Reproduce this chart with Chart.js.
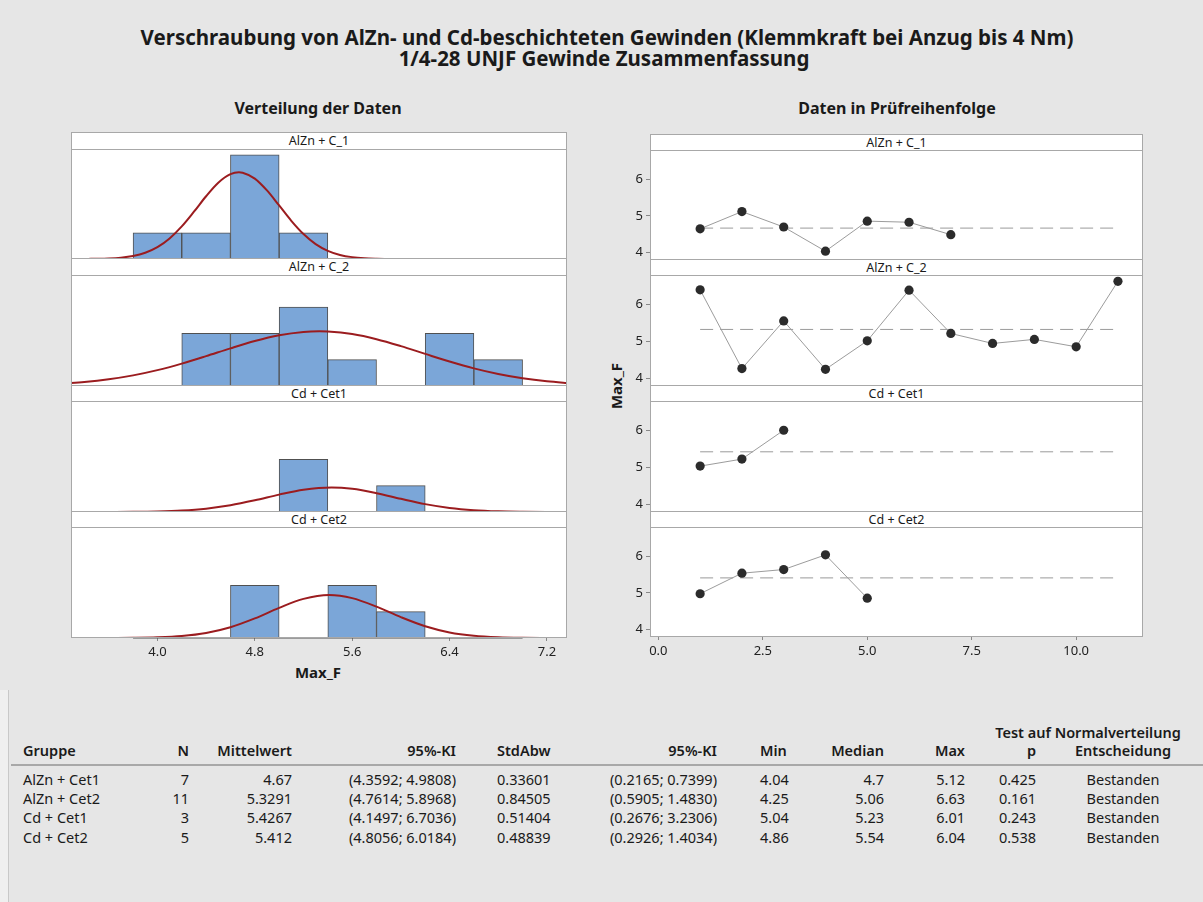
<!DOCTYPE html>
<html><head><meta charset="utf-8">
<script src="https://cdn.jsdelivr.net/npm/chart.js@4.4.0/dist/chart.umd.min.js"></script>
<style>
html,body{margin:0;padding:0;background:#e6e6e6;}
body{width:1203px;height:902px;position:relative;overflow:hidden;font-family:"Noto Sans","Open Sans",sans-serif;color:#1a1a1a;}
.t{position:absolute;white-space:nowrap;line-height:1;}
.strip{position:absolute;box-sizing:border-box;background:#fff;border:1px solid #a8a8a8;text-align:center;font-size:12.5px;color:#1a1a1a;}
.cv{position:absolute;}
</style>
</head><body>
<script>
// ---------- DATA ----------
const groupNames = ["AlZn + C_1", "AlZn + C_2", "Cd + Cet1", "Cd + Cet2"];
const binCenters = [4.0, 4.4, 4.8, 5.2, 5.6, 6.0, 6.4, 6.8];
const binRange = [3.8, 7.0];
const countsC1 = [1, 1, 4, 1, 0, 0, 0, 0];
const countsC2 = [0, 2, 2, 3, 1, 0, 2, 1];
const countsCet1 = [0, 0, 0, 2, 0, 1, 0, 0];
const countsCet2 = [0, 0, 2, 0, 2, 1, 0, 0];

const fitX1 = [3.43,3.5,3.6,3.7,3.8,3.9,4.0,4.1,4.2,4.3,4.4,4.5,4.6,4.67,4.7,4.8,4.9,5.0,5.1,5.2,5.3,5.4,5.5,5.6,5.7,5.8,5.9,5.93];
const fitY1 = [0.004,0.008,0.021,0.052,0.116,0.241,0.455,0.789,1.250,1.813,2.407,2.925,3.253,3.324,3.311,3.085,2.630,2.053,1.466,0.958,0.573,0.314,0.157,0.072,0.030,0.012,0.004,0.003];
const fitX2 = [3.2,3.4,3.6,3.8,4.0,4.2,4.4,4.6,4.8,5.0,5.2,5.33,5.4,5.6,5.8,6.0,6.2,6.4,6.6,6.8,7.0,7.2,7.4];
const fitY2 = [0.087,0.153,0.256,0.404,0.603,0.851,1.135,1.432,1.708,1.926,2.053,2.077,2.070,1.973,1.779,1.516,1.221,0.931,0.670,0.457,0.294,0.179,0.103];
const fitX3 = [3.53,3.6,3.8,4.0,4.2,4.4,4.6,4.8,5.0,5.2,5.43,5.6,5.8,6.0,6.2,6.4,6.6,6.8,7.0,7.2,7.33];
const fitY3 = [0.001,0.002,0.006,0.020,0.054,0.127,0.256,0.443,0.660,0.845,0.931,0.880,0.715,0.500,0.300,0.155,0.069,0.026,0.009,0.002,0.001];
const fitX4 = [3.61,3.8,4.0,4.2,4.4,4.6,4.8,5.0,5.2,5.41,5.6,5.8,6.0,6.2,6.4,6.6,6.8,7.0,7.22];
const fitY4 = [0.002,0.007,0.025,0.075,0.191,0.410,0.745,1.145,1.487,1.634,1.517,1.192,0.792,0.445,0.211,0.085,0.029,0.008,0.002];

const seqC1 = [4.65, 5.12, 4.70, 4.04, 4.86, 4.83, 4.49];
const seqC2 = [6.40, 4.27, 5.56, 4.25, 5.02, 6.39, 5.22, 4.95, 5.06, 4.86, 6.63];
const seqCet1 = [5.04, 5.23, 6.01];
const seqCet2 = [4.98, 5.54, 5.64, 6.04, 4.86];
const groupMeans = [4.67, 5.3291, 5.4267, 5.412];
const meanLineX = [1, 11];

const histTicks = [4.0, 4.8, 5.6, 6.4, 7.2];
const orderTicks = [0.0, 2.5, 5.0, 7.5, 10.0];
const valueTicks = [4, 5, 6];

const tableGroups = ["AlZn + Cet1", "AlZn + Cet2", "Cd + Cet1", "Cd + Cet2"];
const tableN = ["7", "11", "3", "5"];
const tableMean = ["4.67", "5.3291", "5.4267", "5.412"];
const tableMeanCI = ["(4.3592; 4.9808)", "(4.7614; 5.8968)", "(4.1497; 6.7036)", "(4.8056; 6.0184)"];
const tableStd = ["0.33601", "0.84505", "0.51404", "0.48839"];
const tableStdCI = ["(0.2165; 0.7399)", "(0.5905; 1.4830)", "(0.2676; 3.2306)", "(0.2926; 1.4034)"];
const tableMin = ["4.04", "4.25", "5.04", "4.86"];
const tableMedian = ["4.7", "5.06", "5.23", "5.54"];
const tableMax = ["5.12", "6.63", "6.01", "6.04"];
const tableP = ["0.425", "0.161", "0.243", "0.538"];
const tableDecision = ["Bestanden", "Bestanden", "Bestanden", "Bestanden"];

// ---------- LAYOUT ----------
const counts = [countsC1, countsC2, countsCet1, countsCet2];
const fitsX = [fitX1, fitX2, fitX3, fitX4];
const fitsY = [fitY1, fitY2, fitY3, fitY4];
const seqs = [seqC1, seqC2, seqCet1, seqCet2];

const LEFT = {x: 71, w: 496, strips: [[132, 18], [258, 18], [385, 17], [511, 17]], plots: [[149, 110], [275, 111], [401, 111], [527, 111]]};
const RIGHT = {x: 650, w: 493, strips: [[134, 17], [259, 17], [385, 17], [511, 17]], plots: [[150, 110], [275, 111], [401, 111], [527, 110]]};

function text(str, x, y, opts) {
  const d = document.createElement('div');
  d.className = 't';
  d.textContent = str;
  const o = opts || {};
  d.style.fontSize = (o.size || 14) + 'px';
  d.style.fontWeight = o.weight || 400;
  d.style.top = y + 'px';
  let tf = 'translateY(-50%)';
  if (o.align === 'right') { d.style.right = (1203 - x) + 'px'; }
  else if (o.align === 'center') { d.style.left = x + 'px'; tf = 'translate(-50%,-50%)'; }
  else { d.style.left = x + 'px'; }
  if (o.rotate) tf += ' rotate(-90deg)';
  d.style.transform = tf;
  document.body.appendChild(d);
  return d;
}

// titles
text("Verschraubung von AlZn- und Cd-beschichteten Gewinden (Klemmkraft bei Anzug bis 4 Nm)", 607, 37, {size: 20.5, weight: 700, align: 'center'});
text("1/4-28 UNJF Gewinde Zusammenfassung", 604, 58, {size: 20.5, weight: 700, align: 'center'});
text("Verteilung der Daten", 318, 108, {size: 16, weight: 700, align: 'center'});
text("Daten in Prüfreihenfolge", 897, 108, {size: 16, weight: 700, align: 'center'});
text("Max_F", 318, 672, {size: 15, weight: 700, align: 'center'});
text("Max_F", 616, 386, {size: 15, weight: 700, align: 'center', rotate: true});

// strips
function strip(col, i) {
  const s = col.strips[i];
  const d = document.createElement('div');
  d.className = 'strip';
  d.style.left = col.x + 'px'; d.style.top = s[0] + 'px';
  d.style.width = col.w + 'px'; d.style.height = s[1] + 'px';
  d.style.lineHeight = (s[1] - 2) + 'px';
  d.textContent = groupNames[i];
  document.body.appendChild(d);
}

Chart.defaults.font.family = '"Noto Sans", "Open Sans", sans-serif';
Chart.defaults.color = '#222';

const framePlugin = {
  id: 'frame',
  beforeDraw(chart) {
    const a = chart.chartArea, c = chart.ctx;
    c.save(); c.fillStyle = '#fff'; c.fillRect(a.left, a.top, a.width, a.height); c.restore();
  },
  afterDraw(chart) {
    const a = chart.chartArea, c = chart.ctx;
    c.save(); c.strokeStyle = '#a8a8a8'; c.lineWidth = 1;
    c.strokeRect(a.left + 0.5, a.top + 0.5, a.width - 1, a.height - 1); c.restore();
  }
};

function makeCanvas(x, y, w, h) {
  const d = document.createElement('div');
  d.className = 'cv';
  d.style.left = x + 'px'; d.style.top = y + 'px';
  d.style.width = w + 'px'; d.style.height = h + 'px';
  const c = document.createElement('canvas');
  d.appendChild(c);
  document.body.appendChild(d);
  return c;
}

const AXH = 30, AXW = 30;
function noPad(s) { s.paddingTop = 0; s.paddingBottom = 0; s.paddingLeft = 0; s.paddingRight = 0; }

// left histograms
for (let i = 0; i < 4; i++) {
  strip(LEFT, i);
  const p = LEFT.plots[i];
  const bottom = i === 3;
  const cv = makeCanvas(LEFT.x, p[0], LEFT.w, p[1] + (bottom ? AXH : 0));
  new Chart(cv, {
    type: 'bar',
    data: {
      datasets: [
        {type: 'line', data: fitsX[i].map((x, k) => ({x, y: fitsY[i][k]})), borderColor: '#9b1c1f', borderWidth: 2,
         pointRadius: 0, cubicInterpolationMode: 'monotone', fill: false},
        {type: 'bar', data: binCenters.map((x, k) => ({x, y: counts[i][k] || null})), backgroundColor: '#7ba6d8',
         borderColor: '#505050', borderWidth: 1, borderSkipped: 'start', barPercentage: 1, categoryPercentage: 1},
        {type: 'line', data: binRange.map(x => ({x, y: 0})), borderColor: '#505050', borderWidth: 1, pointRadius: 0, clip: false}
      ]
    },
    options: {
      animation: false, responsive: true, maintainAspectRatio: false, devicePixelRatio: 1,
      layout: {padding: 0, autoPadding: false},
      plugins: {legend: {display: false}, tooltip: {enabled: false}},
      scales: {
        x: {type: 'linear', min: 3.29, max: 7.365, offset: false, display: bottom,
            afterBuildTicks: s => { s.ticks = histTicks.map(v => ({value: v})); },
            afterFit: s => { noPad(s); if (bottom) s.height = AXH; },
            grid: {offset: false, drawOnChartArea: false, drawTicks: true, tickLength: 3, color: '#888'},
            border: {display: false},
            ticks: {font: {size: 13}, color: '#222', padding: 3, maxRotation: 0, callback: v => Number(v).toFixed(1)}},
        y: {type: 'linear', min: 0, max: 4.22, display: false}
      }
    },
    plugins: [framePlugin]
  });
}

// right time-order plots
for (let i = 0; i < 4; i++) {
  strip(RIGHT, i);
  const p = RIGHT.plots[i];
  const bottom = i === 3;
  const cv = makeCanvas(RIGHT.x - AXW, p[0], RIGHT.w + AXW, p[1] + (bottom ? AXH : 0));
  new Chart(cv, {
    type: 'line',
    data: {
      datasets: [
        {data: seqs[i].map((v, k) => ({x: k + 1, y: v})), borderColor: '#9c9c9c', borderWidth: 1,
         pointRadius: 4.6, pointBackgroundColor: '#2b2b2b', pointBorderColor: '#2b2b2b', pointBorderWidth: 0, tension: 0},
        {data: meanLineX.map(x => ({x, y: groupMeans[i]})), borderColor: '#9a9a9a', borderWidth: 1,
         borderDash: [13, 7], pointRadius: 0}
      ]
    },
    options: {
      animation: false, responsive: true, maintainAspectRatio: false, devicePixelRatio: 1,
      layout: {padding: 0, autoPadding: false},
      plugins: {legend: {display: false}, tooltip: {enabled: false}},
      scales: {
        x: {type: 'linear', min: -0.2, max: 11.6, display: bottom,
            afterBuildTicks: s => { s.ticks = orderTicks.map(v => ({value: v})); },
            afterFit: s => { noPad(s); if (bottom) s.height = AXH; },
            grid: {drawOnChartArea: false, drawTicks: true, tickLength: 3, color: '#888'},
            border: {display: false},
            ticks: {font: {size: 13}, color: '#222', padding: 3, maxRotation: 0, callback: v => Number(v).toFixed(1)}},
        y: {type: 'linear', min: 3.8, max: 6.8,
            afterBuildTicks: s => { s.ticks = valueTicks.map(v => ({value: v})); },
            afterFit: s => { noPad(s); s.width = AXW; },
            grid: {drawOnChartArea: false, drawTicks: true, tickLength: 4, color: '#888'},
            border: {display: false},
            ticks: {font: {size: 13}, color: '#222', padding: 3, callback: v => String(v)}}
      }
    },
    plugins: [framePlugin]
  });
}

// ---------- TABLE ----------
const cols = [
  {head: "Gruppe", vals: tableGroups, x: 23, align: 'left'},
  {head: "N", vals: tableN, x: 189, align: 'right'},
  {head: "Mittelwert", vals: tableMean, x: 292, align: 'right'},
  {head: "95%-KI", vals: tableMeanCI, x: 456, align: 'right'},
  {head: "StdAbw", vals: tableStd, x: 497, align: 'left'},
  {head: "95%-KI", vals: tableStdCI, x: 717, align: 'right'},
  {head: "Min", vals: tableMin, x: 760, align: 'left'},
  {head: "Median", vals: tableMedian, x: 884, align: 'right'},
  {head: "Max", vals: tableMax, x: 965, align: 'right'},
  {head: "p", vals: tableP, x: 1036, align: 'right'},
  {head: "Entscheidung", vals: tableDecision, x: 1123, align: 'center'}
];
const headY = 750, rowY = [779, 798, 817, 836.5];
text("Test auf Normalverteilung", 1088, 731.5, {size: 14.5, weight: 600, align: 'center'});
cols.forEach(c => {
  text(c.head, c.x, headY, {size: 14.5, weight: 600, align: c.align});
  c.vals.forEach((v, r) => text(v, c.x, rowY[r], {size: 14.5, weight: 400, align: c.align}));
});
const sep = document.createElement('div');
sep.style.cssText = 'position:absolute;left:11px;top:764px;width:1192px;height:2px;background:#a8a8a8;';
document.body.appendChild(sep);
const edge = document.createElement('div');
edge.style.cssText = 'position:absolute;left:0;top:690px;width:8px;height:212px;background:#efefef;border-right:1px solid #c8c8c8;';
document.body.appendChild(edge);
</script>
</body></html>
